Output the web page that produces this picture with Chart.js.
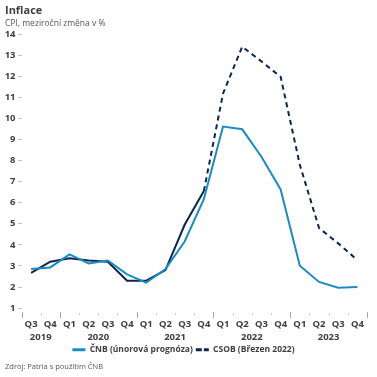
<!DOCTYPE html>
<html>
  <head>
    <meta charset="UTF-8" />
    <title>Inflace</title>
    <style>
      html,
      body {
        margin: 0;
        padding: 0;
        width: 377px;
        height: 377px;
        background: #fff;
        font-family: "Open Sans", sans-serif;
      }
      .wrap {
        position: relative;
        width: 377px;
        height: 377px;
      }
      .wrap canvas {
        position: absolute;
        left: 0;
        top: 0;
      }
      .title {
        position: absolute;
        left: 5px;
        top: 2px;
        font-size: 11px;
        font-weight: bold;
        color: #404040;
      }
      .subtitle {
        position: absolute;
        left: 5px;
        top: 17px;
        font-size: 8.5px;
        color: #595959;
      }
      .source {
        position: absolute;
        left: 5px;
        top: 361px;
        font-size: 7.5px;
        color: #595959;
      }
    </style>
    <script src="https://cdn.jsdelivr.net/npm/chart.js"></script>
  </head>
  <body>
    <div class="wrap">
      <canvas id="chart" width="377" height="377"></canvas>
      <div class="title">Inflace</div>
      <div class="subtitle">CPI, meziroční změna v %</div>
      <div class="source">Zdroj: Patria s použitím ČNB</div>
    </div>
    <script>
      // data
      const quarters = ["Q3", "Q4", "Q1", "Q2", "Q3", "Q4", "Q1", "Q2", "Q3",
        "Q4", "Q1", "Q2", "Q3", "Q4", "Q1", "Q2", "Q3", "Q4"];
      const quarterYears = ["2019", "2019", "2020", "2020", "2020", "2020",
        "2021", "2021", "2021", "2021", "2022", "2022", "2022", "2022",
        "2023", "2023", "2023", "2023"];
      const cnb = [2.85, 2.93, 3.55, 3.12, 3.26, 2.6, 2.21, 2.85, 4.16, 6.17,
        9.61, 9.48, 8.18, 6.63, 3.01, 2.24, 1.97, 2.0];
      const csob = [2.67, 3.2, 3.36, 3.26, 3.2, 2.3, 2.3, 2.8, 4.95, 6.55,
        11.18, 13.4, 12.7, 11.97, 7.8, 4.8, 4.07, 3.28];
      const forecastStart = 9; // CSOB dashed from Q4 2021
      const yTicks = [1, 2, 3, 4, 5, 6, 7, 8, 9, 10, 11, 12, 13, 14];

      const blue = "#1a8cc4";
      const navy = "#0d2550";
      const textColor = "#404040";

      // year labels under the quarters + ticks between quarters
      const yearLabels = {
        id: "yearLabels",
        afterDraw(chart) {
          const x = chart.scales.x;
          const ctx = chart.ctx;
          const bottom = chart.chartArea.bottom;
          ctx.save();
          ctx.font = "bold 9.5px 'Open Sans'";
          ctx.fillStyle = textColor;
          ctx.textAlign = "center";
          ctx.textBaseline = "middle";
          let start = 0;
          for (let i = 1; i <= quarterYears.length; i++) {
            if (i === quarterYears.length || quarterYears[i] !== quarterYears[start]) {
              const cx = (x.getPixelForValue(start) + x.getPixelForValue(i - 1)) / 2;
              ctx.fillText(quarterYears[start], cx, bottom + 29);
              start = i;
            }
          }
          ctx.lineWidth = 1;
          const half = (x.getPixelForValue(1) - x.getPixelForValue(0)) / 2;
          for (let i = 0; i <= quarters.length; i++) {
            const px = Math.round(x.getPixelForValue(i) - half) + 0.5;
            const isYear = i === 0 || i === quarters.length || quarters[i] === "Q1";
            ctx.strokeStyle = isYear ? "#a6a6a6" : "#c8c8c8";
            ctx.beginPath();
            ctx.moveTo(px, bottom + (isYear ? 4 : 5));
            ctx.lineTo(px, bottom + (isYear ? 10 : 7));
            ctx.stroke();
          }
          ctx.restore();
        },
      };

      const ctx = document.getElementById("chart").getContext("2d");
      new Chart(ctx, {
        type: "line",
        data: {
          labels: quarters,
          datasets: [
            {
              label: "ČNB (únorová prognóza)",
              data: cnb,
              borderColor: blue,
              backgroundColor: blue,
              borderWidth: 2,
              pointRadius: 0,
              tension: 0,
            },
            {
              label: "CSOB (Březen 2022)",
              data: csob,
              borderColor: navy,
              backgroundColor: navy,
              borderWidth: 2,
              pointRadius: 0,
              tension: 0,
              segment: {
                borderDash: (c) => (c.p0DataIndex >= forecastStart ? [5, 4] : undefined),
              },
            },
          ],
        },
        options: {
          responsive: false,
          animation: false,
          layout: {
            padding: { top: 34, right: 10, bottom: 13, left: 0 },
          },
          plugins: {
            legend: {
              position: "bottom",
              labels: {
                usePointStyle: true,
                pointStyle: "line",
                pointStyleWidth: 13,
                boxHeight: 8,
                padding: 3,
                color: textColor,
                font: { family: "'Open Sans'", size: 8.5, weight: "bold" },
                generateLabels(chart) {
                  const items = Chart.defaults.plugins.legend.labels.generateLabels(chart);
                  items.forEach((it, i) => {
                    it.lineWidth = 3;
                    if (i === 1) it.lineDash = [6, 2];
                  });
                  return items;
                },
              },
            },
            tooltip: { enabled: false },
          },
          scales: {
            x: {
              offset: true,
              border: { display: false },
              grid: {
                offset: true,
                drawOnChartArea: false,
                tickLength: 10,
                color: "rgba(0,0,0,0)",
              },
              ticks: {
                autoSkip: false,
                maxRotation: 0,
                padding: 0,
                color: textColor,
                font: { family: "'Open Sans'", size: 9.5, weight: "bold" },
              },
              afterFit(scale) {
                scale.height += 13;
              },
            },
            y: {
              min: 1,
              max: 14,
              border: { display: false },
              grid: {
                drawOnChartArea: false,
                tickLength: 3,
                color: "#bfbfbf",
              },
              afterBuildTicks(scale) {
                scale.ticks = yTicks.map((v) => ({ value: v }));
              },
              ticks: {
                padding: 3,
                color: textColor,
                font: { family: "'Open Sans'", size: 9.5, weight: "bold" },
              },
              afterFit(scale) {
                scale.width = 21.5;
              },
            },
          },
        },
        plugins: [yearLabels],
      });
    </script>
  </body>
</html>
